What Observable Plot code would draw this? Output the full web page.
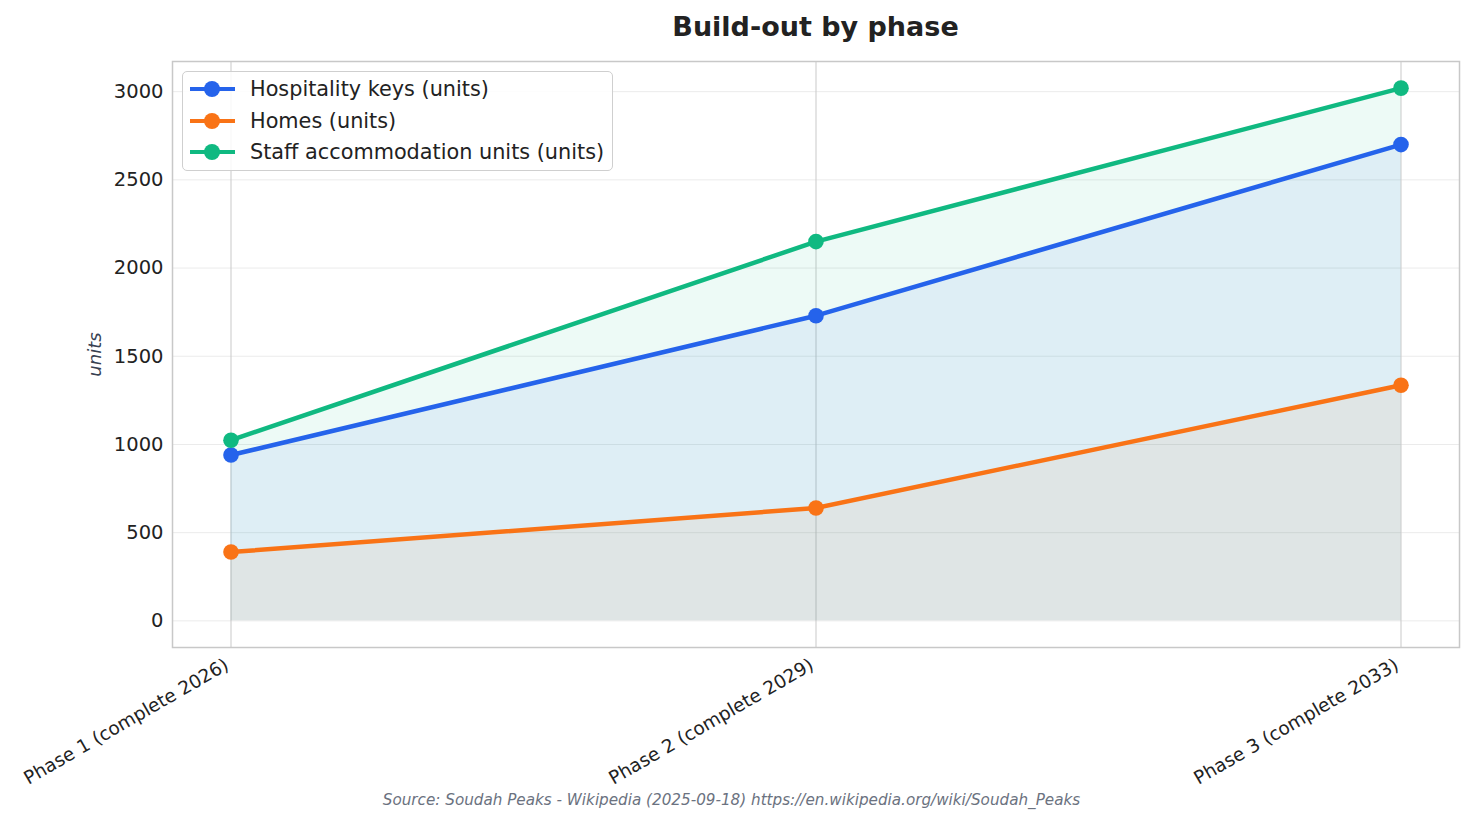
<!DOCTYPE html>
<html>
<head>
<meta charset="utf-8">
<script src="https://cdn.jsdelivr.net/npm/d3@7"></script>
<script src="https://cdn.jsdelivr.net/npm/@observablehq/plot@0.6"></script>
<style>
  html, body { margin: 0; padding: 0; background: #fff; }
  body { width: 1473px; height: 824px; font-family: "DejaVu Sans", sans-serif; position: relative; overflow: hidden; }
  #title { height: 54px; line-height: 54px; text-align: center; font-weight: bold; font-size: 27px; color: #222; padding-left: 158px; padding-right: 0; width: 1315px; }
  #chart { position: relative; height: 760px; }
  #caption { position: absolute; left: 0; top: 789px; height: 22px; line-height: 22px; text-align: center; font-style: italic; font-size: 15.2px; color: #6b7280; width: 1463px; }
  #legend { position: absolute; left: 182px; top: 17px; width: 431px; height: 100px; border: 1px solid #cfcfcf; border-radius: 5px; background: rgba(255,255,255,0.85); box-sizing: border-box; }
  .item { position: absolute; left: 0; height: 32px; width: 100%; }
  .swatch { position: absolute; left: 7px; width: 45px; height: 4px; top: 14px; }
  .dot { position: absolute; left: 21px; width: 16px; height: 16px; top: 8px; border-radius: 50%; }
  .lbl { position: absolute; left: 67px; top: 0; line-height: 32px; font-size: 20.8px; color: #222; white-space: nowrap; }
</style>
</head>
<body>
<div id="title">Build-out by phase</div>
<div id="chart"></div>
<div id="caption">Source: Soudah Peaks - Wikipedia (2025-09-18) https://en.wikipedia.org/wiki/Soudah_Peaks</div>
<script>
const phases = ["Phase 1 (complete 2026)", "Phase 2 (complete 2029)", "Phase 3 (complete 2033)"];
const hospitalityKeys = [940, 1730, 2700];
const homes = [390, 640, 1336];
const staffUnits = [1024, 2150, 3020];
const seriesNames = ["Hospitality keys (units)", "Homes (units)", "Staff accommodation units (units)"];
const seriesColors = ["#2563eb", "#f97316", "#10b981"];
const yTicks = [0, 500, 1000, 1500, 2000, 2500, 3000];
const yLabel = "units";

const seriesValues = [hospitalityKeys, homes, staffUnits];
const rows = [];
seriesNames.forEach((name, s) => {
  seriesValues[s].forEach((v, i) => rows.push({series: name, i, value: v}));
});
const xIdx = phases.map((_, i) => i);

const plot = Plot.plot({
  width: 1473,
  height: 760,
  marginLeft: 172,
  marginRight: 14,
  marginTop: 7,
  marginBottom: 167,
  style: {fontFamily: "DejaVu Sans, sans-serif", fontSize: "18.5px", color: "#222", background: "transparent"},
  x: {domain: [-0.1, 2.1]},
  y: {domain: [-151, 3171]},
  color: {domain: seriesNames, range: seriesColors},
  marks: [
    Plot.ruleY(yTicks, {stroke: "#ebebeb", strokeWidth: 1}),
    Plot.ruleX(xIdx, {stroke: "#c9c9c9", strokeWidth: 1}),
    ...seriesNames.map((name, s) =>
      Plot.areaY(rows.filter(d => d.series === name), {x: "i", y1: 0, y2: "value", fill: seriesColors[s], fillOpacity: 0.075})
    ),
    Plot.line(rows, {x: "i", y: "value", stroke: "series", z: "series", strokeWidth: 4.5}),
    Plot.dot(rows, {x: "i", y: "value", fill: "series", r: 7.8}),
    Plot.frame({stroke: "#c8c8c8", strokeWidth: 1.5}),
    Plot.axisY({ticks: yTicks, tickFormat: d => String(d), tickSize: 0, tickPadding: 9, label: yLabel, labelAnchor: "center", labelArrow: "none", labelOffset: 84, fontSize: "19.5px"}),
    Plot.axisX({ticks: xIdx, tickFormat: i => phases[i], tickSize: 0, tickPadding: 16, dx: -4, tickRotate: -30, label: null, fontSize: "18.5px"})
  ]
});
document.getElementById("chart").appendChild(plot);

// legend
const legend = document.createElement("div");
legend.id = "legend";
seriesNames.forEach((name, s) => {
  const it = document.createElement("div");
  it.className = "item";
  it.style.top = (1 + s * 31.7) + "px";
  it.innerHTML = `<div class="swatch" style="background:${seriesColors[s]}"></div><div class="dot" style="background:${seriesColors[s]}"></div><div class="lbl">${name}</div>`;
  legend.appendChild(it);
});
document.getElementById("chart").appendChild(legend);

// y-axis label styling
const lab = plot.querySelector('[aria-label="y-axis label"] text');
if (lab) { lab.setAttribute("font-style", "italic"); lab.setAttribute("font-size", "18px"); lab.setAttribute("fill", "#374151"); }
</script>
</body>
</html>
